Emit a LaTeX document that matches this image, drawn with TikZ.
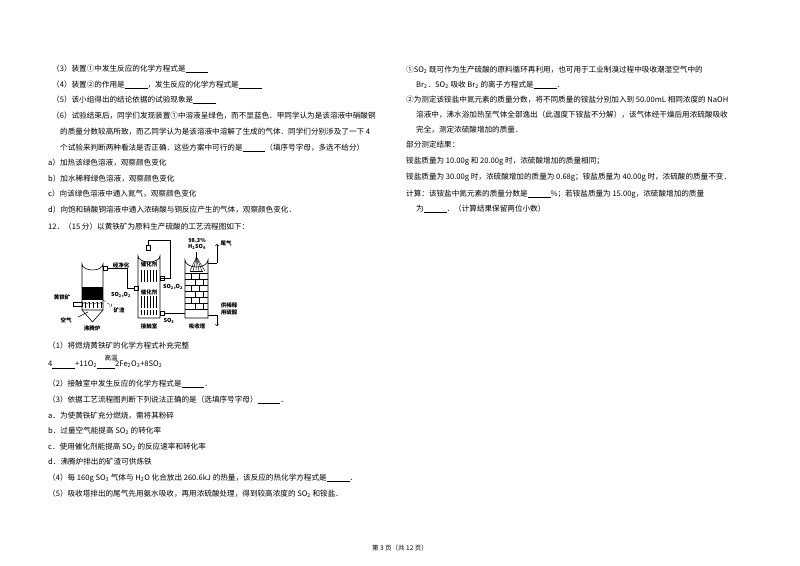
\documentclass[tikz,border=0pt]{standalone}
\usepackage{fontspec}
\setmainfont{Noto Sans CJK SC}
\newcommand{\myblank}{\underline{\hspace{3em}}}
\newcommand{\sbt}[1]{\textsubscript{#1}}
\begin{document}
\begin{tikzpicture}[x=1pt,y=-1pt,
  txt/.style={anchor=west,inner sep=0pt,font=\fontsize{7.6}{9}\selectfont},
  lbl/.style={inner sep=0pt,font=\fontsize{5.5}{6}\selectfont\bfseries}]
\useasboundingbox (0,0) rectangle (800,565);
% left column
\node[txt] (l1) at (52,69) {（3）装置①中发生反应的化学方程式是\myblank};
\node[txt] (l2) at (52,85) {（4）装置②的作用是\myblank，发生反应的化学方程式是\myblank};
\node[txt] (l3) at (52,100) {（5）该小组得出的结论依据的试验现象是\myblank};
\node[txt] (l4) at (52,116) {（6）试验结束后，同学们发现装置①中溶液呈绿色，而不显蓝色．甲同学认为是该溶液中硝酸铜};
\node[txt] (l5) at (60,132) {的质量分数较高所致，而乙同学认为是该溶液中溶解了生成的气体．同学们分别涉及了一下 4};
\node[txt] (l6) at (60,148) {个试验来判断两种看法是否正确．这些方案中可行的是\myblank（填序号字母，多选不给分）};
\node[txt] (l7) at (48,163) {a）加热该绿色溶液，观察颜色变化};
\node[txt] (l8) at (48,179) {b）加水稀释绿色溶液，观察颜色变化};
\node[txt] (l9) at (48,194) {c）向该绿色溶液中通入氮气，观察颜色变化};
\node[txt] (l10) at (48,210) {d）向饱和硝酸铜溶液中通入浓硝酸与铜反应产生的气体，观察颜色变化．};
\node[txt] (l11) at (48,227) {12．（15 分）以黄铁矿为原料生产硫酸的工艺流程图如下：};
% diagram
\begin{scope}[line width=0.6pt]
% boiling furnace
\draw (82,264) arc (180:0:10.5 and 6) -- (103,310) -- (82,310) -- cycle;
\fill (82,287) rectangle (103,300);
\foreach \x in {85,89,...,101} \draw[->,line width=0.4pt] (\x,308) -- (\x,302);
\draw (82,310) -- (92.5,322) -- (103,310);
\draw (73,302) rectangle (82,306);
\draw (78,317) -- (88,312);
\draw[densely dashed,->,line width=0.4pt] (103,300) -- (112,306);
\draw (103,266) rectangle (107,270);
\draw (107,268) -- (127,268) -- (127,288) -- (134,288);
\draw (134,286) rectangle (138,290);
% contact chamber
\draw (138,256) arc (180:0:11 and 6) -- (160,318) -- (138,318) -- cycle;
\draw (146,245) rectangle (150,250);
\foreach \y in {270,296} \foreach \x in {141,144,...,157} \draw (\x,\y) -- (\x,\y+12);
\foreach \y in {310} \foreach \x in {141,144,...,157} \draw (\x,\y) -- (\x,\y+5);
\draw (148,245) -- (148,240) -- (170,240) -- (170,278) -- (160,278);
\draw (160,276) rectangle (164,280);
\draw (160,311) rectangle (164,315);
\draw (164,313) -- (185,313);
% absorption tower
\draw (185,260) arc (180:0:11.5 and 7) -- (208,318) -- (185,318) -- cycle;
\foreach \y in {273,279,...,309} \draw[line width=0.4pt] (185,\y) -- (208,\y);
\foreach \y in {273,285,297} \foreach \x in {191,199} \draw[line width=0.4pt] (\x,\y) -- (\x,\y+6);
\foreach \y in {279,291,303} \foreach \x in {195,203} \draw[line width=0.4pt] (\x,\y) -- (\x,\y+6);
\draw[line width=0.4pt] (196.5,252) -- (196.5,257);
\foreach \x in {190,193,...,205} \draw[line width=0.4pt] (196.5,257) -- (\x,271);
\draw (190,271) -- (203,271);
\draw (208,263) -- (217,263);
\draw[->] (217,263) -- (217,244);
\draw (208,315) -- (217,315);
\draw[->] (217,315) -- (217,326);
\end{scope}
\node[lbl] (d1) at (121,265) {经净化};
\node[lbl] (d2) at (149,264) {催化剂};
\node[lbl] (d3) at (149,292) {催化剂};
\node[lbl] (d4) at (121,295) {SO\sbt{2},O\sbt{2}};
\node[lbl] (d5) at (173,287) {SO\sbt{2},O\sbt{2}};
\node[lbl] (d6) at (62,297) {黄铁矿};
\node[lbl] (d7) at (119,310) {矿渣};
\node[lbl] (d8) at (66,320) {空气};
\node[lbl] (d9) at (92,328) {沸腾炉};
\node[lbl] (d10) at (149,326) {接触室};
\node[lbl] (d11) at (197,326) {吸收塔};
\node[lbl] (d12) at (169,321) {SO\sbt{3}};
\node[lbl] (d13) at (197,240) {98.3\%};
\node[lbl] (d14) at (197,247) {H\sbt{2}SO\sbt{4}};
\node[lbl] (d15) at (226,243) {尾气};
\node[lbl] (d16) at (229,305) {供稀释};
\node[lbl] (d17) at (229,312) {用硫酸};
\node[txt] (m1) at (48,346) {（1）将燃烧黄铁矿的化学方程式补充完整};
\node[txt] (m2) at (48,365) {4\myblank+11O\sbt{2}\underline{\hspace{2.4em}}2Fe\sbt{2}O\sbt{3}+8SO\sbt{2}};
\node[lbl,font=\fontsize{6.5}{7}\selectfont] (m2b) at (111,358) {高温};
\node[txt] (m3) at (48,384) {（2）接触室中发生反应的化学方程式是\myblank．};
\node[txt] (m4) at (48,400) {（3）依据工艺流程图判断下列说法正确的是（选填序号字母）\myblank．};
\node[txt] (m5) at (48,416) {a．为使黄铁矿充分燃烧，需将其粉碎};
\node[txt] (m6) at (48,431) {b．过量空气能提高 SO\sbt{2} 的转化率};
\node[txt] (m7) at (48,447) {c．使用催化剂能提高 SO\sbt{2} 的反应速率和转化率};
\node[txt] (m8) at (48,462) {d．沸腾炉排出的矿渣可供炼铁};
\node[txt] (m9) at (48,478) {（4）每 160g SO\sbt{3} 气体与 H\sbt{2}O 化合放出 260.6kJ 的热量，该反应的热化学方程式是\myblank．};
\node[txt] (m10) at (48,494) {（5）吸收塔排出的尾气先用氨水吸收，再用浓硫酸处理，得到较高浓度的 SO\sbt{2} 和铵盐．};
% right column
\node[txt] (r1) at (406,70) {①SO\sbt{2} 既可作为生产硫酸的原料循环再利用，也可用于工业制溴过程中吸收潮湿空气中的};
\node[txt] (r2) at (416,85) {Br\sbt{2}．SO\sbt{2} 吸收 Br\sbt{2} 的离子方程式是\myblank．};
\node[txt] (r3) at (406,100) {②为测定该铵盐中氮元素的质量分数，将不同质量的铵盐分别加入到 50.00mL 相同浓度的 NaOH};
\node[txt] (r4) at (416,115) {溶液中，沸水浴加热至气体全部逸出（此温度下铵盐不分解），该气体经干燥后用浓硫酸吸收};
\node[txt] (r5) at (416,130) {完全，测定浓硫酸增加的质量．};
\node[txt] (r6) at (406,145) {部分测定结果：};
\node[txt] (r7) at (406,161) {铵盐质量为 10.00g 和 20.00g 时，浓硫酸增加的质量相同；};
\node[txt] (r8) at (406,177) {铵盐质量为 30.00g 时，浓硫酸增加的质量为 0.68g；铵盐质量为 40.00g 时，浓硫酸的质量不变．};
\node[txt] (r9) at (406,194) {计算：该铵盐中氮元素的质量分数是\myblank\%；若铵盐质量为 15.00g，浓硫酸增加的质量};
\node[txt] (r10) at (416,209) {为\myblank．（计算结果保留两位小数）};
\node[inner sep=0pt,font=\fontsize{6.5}{7}\selectfont] (f) at (400,548) {第 3 页（共 12 页）};
\end{tikzpicture}
\end{document}
